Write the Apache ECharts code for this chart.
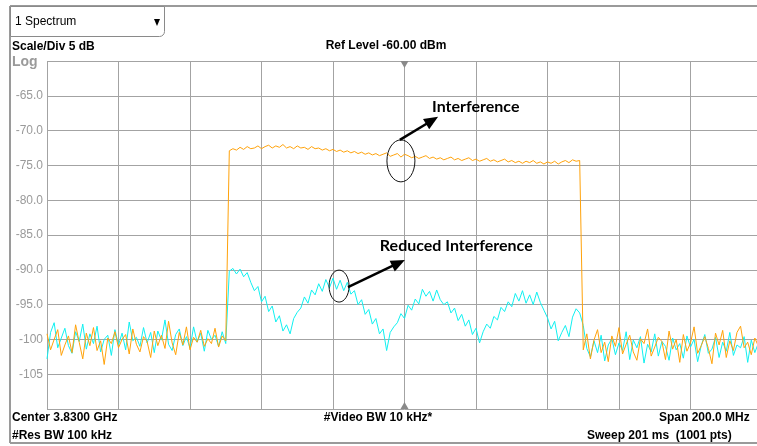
<!DOCTYPE html>
<html>
<head>
<meta charset="utf-8">
<script src="https://cdn.jsdelivr.net/npm/echarts@6/dist/echarts.min.js"></script>
<style>
  html, body { margin: 0; padding: 0; background: #fff; overflow: hidden; }
  /* the analyser screen runs a few pixels past the right edge of the capture */
  #spectrum { width: 762px; height: 446px; }
</style>
</head>
<body>
<div id="spectrum"></div>
<script>
// sweep: centre 3830 MHz, span 200 MHz, one value per MHz
const startMHz = 3730
const stopMHz = 3930
const centerMHz = 3830
const yMin = -110
const yMax = -60
const yStep = 5

// trace 1 (orange) - with interference
const orangeTrace = [
  -99.2,-101.5,-100.0,-98.6,-102.3,-100.8,-99.5,-101.9,-97.9,-100.4,
  -102.8,-99.1,-100.9,-98.3,-101.6,-100.2,-103.6,-99.8,-100.6,-98.9,
  -101.2,-100.0,-99.3,-102.1,-98.5,-100.7,-101.8,-99.6,-100.3,-102.6,
  -98.8,-100.9,-99.4,-101.3,-97.4,-100.5,-102.2,-99.0,-100.8,-98.2,
  -101.5,-99.7,-100.4,-98.7,-101.0,-99.9,-100.6,-98.4,-101.1,-99.5,-100.2,
  -72.9,-72.6,-72.8,-72.4,-72.7,-72.3,-72.6,-72.5,-72.2,-72.6,
  -72.3,-72.1,-72.5,-72.2,-72.4,-72.0,-72.5,-72.3,-72.6,-72.2,
  -72.5,-72.4,-72.7,-72.3,-72.6,-72.5,-72.8,-72.6,-72.9,-72.7,
  -73.0,-72.8,-73.1,-72.9,-73.2,-73.0,-73.3,-73.1,-73.4,-73.2,
  -73.5,-73.3,-73.6,-73.4,-73.2,-73.7,-73.5,-73.3,-73.8,-73.4,
  -73.6,-73.9,-73.7,-74.0,-73.8,-73.6,-74.0,-73.8,-74.1,-73.9,
  -74.2,-74.0,-73.8,-74.2,-74.0,-74.3,-74.1,-73.9,-74.3,-74.1,
  -74.4,-74.2,-74.0,-74.4,-74.2,-74.5,-74.3,-74.1,-74.5,-74.3,
  -74.6,-74.4,-74.7,-74.4,-74.6,-74.3,-74.7,-74.5,-74.8,-74.5,
  -74.7,-74.4,-74.8,-74.5,-74.3,-74.6,-74.2,-74.4,-74.3,
  -101.5,-99.2,-102.8,-100.1,-98.6,-101.9,-100.4,-103.2,-99.5,-101.0,
  -98.3,-102.1,-100.7,-99.4,-101.8,-103.0,-99.9,-100.6,-98.5,-102.4,
  -101.1,-99.7,-100.3,-102.9,-98.8,-101.4,-100.0,-103.3,-99.3,-101.7,
  -100.5,-98.2,-102.0,-100.9,-99.6,-101.3,-103.5,-99.1,-100.8,-98.7,
  -102.6,-100.2,-101.6,-99.0,-98.1,-101.2,-100.4,-102.2,-99.8,-101.0,-100.6
]

// trace 2 (cyan) - reduced interference
const cyanTrace = [
  -102.8,-99.0,-97.6,-101.2,-99.8,-98.4,-100.9,-102.0,-98.9,-100.3,
  -97.8,-101.4,-99.2,-100.6,-98.1,-101.8,-100.0,-99.4,-102.3,-98.6,
  -100.8,-99.1,-101.5,-97.5,-100.2,-99.7,-101.0,-98.3,-100.5,-99.0,
  -101.9,-98.8,-100.1,-97.2,-100.7,-101.6,-99.3,-98.5,-100.9,-99.6,
  -101.3,-98.2,-100.4,-99.1,-101.7,-98.7,-100.0,-99.4,-101.0,-98.9,-100.6,
  -90.2,-89.8,-90.6,-89.9,-91.0,-90.4,-91.8,-93.0,-92.4,-94.6,
  -93.8,-96.0,-95.2,-97.5,-96.6,-98.8,-97.9,-99.2,-97.0,-96.1,
  -95.5,-93.9,-94.8,-92.9,-93.6,-92.0,-93.1,-91.4,-92.6,-91.2,
  -92.8,-91.5,-93.0,-91.8,-93.5,-93.0,-95.0,-94.3,-96.4,-95.7,
  -97.8,-97.0,-99.2,-98.5,-101.6,-99.0,-98.2,-97.6,-96.3,-97.0,
  -95.1,-95.8,-94.2,-94.9,-92.8,-93.8,-93.1,-94.5,-92.9,-94.3,
  -95.0,-94.6,-96.2,-95.5,-97.3,-96.4,-98.1,-97.2,-99.3,-98.4,
  -100.5,-98.9,-97.8,-98.4,-96.7,-97.2,-95.4,-96.0,-94.6,-95.3,
  -93.4,-94.5,-93.0,-94.8,-93.6,-95.0,-93.2,-94.7,-95.8,-96.9,
  -98.5,-97.4,-100.2,-99.0,-98.0,-99.6,-96.8,-95.6,-96.2,
  -98.0,-101.3,-102.5,-100.2,-101.9,-99.4,-103.1,-100.8,-99.9,-102.2,
  -100.5,-101.6,-98.9,-102.9,-100.1,-101.2,-99.6,-103.4,-100.7,-101.8,
  -99.2,-102.4,-100.3,-101.0,-103.0,-99.8,-101.5,-100.6,-102.7,-99.5,
  -101.1,-100.0,-103.2,-100.9,-99.3,-102.0,-101.4,-99.7,-102.6,-100.4,
  -101.7,-99.0,-102.3,-100.8,-101.2,-99.6,-103.3,-100.1,-101.9,-100.5,-101.0
]

// annotations, in data units [MHz, dBm]
const interferenceMark = { center: [3829, -74.35], arrowFrom: [3828.7, -71.33], arrowTo: [3839.4, -68.02], label: [3837.7, -66.58], text: 'Interference' }
const reducedMark = { center: [3811.7, -92.34], arrowFrom: [3814.2, -92.48], arrowTo: [3830.1, -88.6], label: [3823.1, -86.58], text: 'Reduced Interference' }

const gridColor = '#a3a3a3'
const frameColor = '#9a9a9a'
const font = 'Liberation Sans, Arial, sans-serif'

function pairs(trace) {
  return trace.map((v, i) => [startMHz + i, v])
}

const chart = echarts.init(document.getElementById('spectrum'))

chart.setOption({
  animation: false,
  grid: { left: 47, top: 61, right: 0, bottom: 37 },
  xAxis: {
    type: 'value', min: startMHz, max: stopMHz, interval: 20,
    axisLine: { show: false }, axisTick: { show: false }, axisLabel: { show: false },
    splitLine: { show: true, lineStyle: { color: gridColor, width: 1 } }
  },
  yAxis: {
    type: 'value', min: yMin, max: yMax, interval: yStep,
    axisLine: { show: false }, axisTick: { show: false },
    axisLabel: {
      margin: 4, color: '#9a9a9a', fontSize: 12, fontFamily: font,
      formatter: function (v) {
        if (v === yMin || v === yMax) return ''
        return Math.abs(v) >= 100 ? String(v) : v.toFixed(1)
      }
    },
    splitLine: { show: true, lineStyle: { color: gridColor, width: 1 } }
  },
  series: [
    { name: 'Trace 2', type: 'line', data: pairs(cyanTrace), showSymbol: false, lineStyle: { color: '#10f0f0', width: 1 }, z: 3 },
    { name: 'Trace 1', type: 'line', data: pairs(orangeTrace), showSymbol: false, lineStyle: { color: '#ffa20a', width: 1 }, z: 4 }
  ]
})

function txt(x, y, text, opts) {
  return {
    type: 'text', z: 20,
    style: Object.assign({
      x: x, y: y, text: text, fill: '#000', font: 'bold 12px ' + font,
      textAlign: 'left', textVerticalAlign: 'middle', verticalAlign: 'middle'
    }, opts || {})
  }
}

function arrow(from, to) {
  const dx = to[0] - from[0], dy = to[1] - from[1]
  const len = Math.hypot(dx, dy)
  const ux = dx / len, uy = dy / len
  const headLen = 14, headW = 12
  const bx = to[0] - ux * headLen, by = to[1] - uy * headLen
  const px = -uy * headW / 2, py = ux * headW / 2
  return [
    { type: 'line', z: 20, shape: { x1: from[0], y1: from[1], x2: bx + ux * 2, y2: by + uy * 2 }, style: { stroke: '#000', lineWidth: 2.5 } },
    { type: 'polygon', z: 20, shape: { points: [[to[0], to[1]], [bx + px, by + py], [bx - px, by - py]] }, style: { fill: '#000' } }
  ]
}

function annotation(mark, rx, ry) {
  const c = chart.convertToPixel({ gridIndex: 0 }, mark.center)
  const a = chart.convertToPixel({ gridIndex: 0 }, mark.arrowFrom)
  const b = chart.convertToPixel({ gridIndex: 0 }, mark.arrowTo)
  const l = chart.convertToPixel({ gridIndex: 0 }, mark.label)
  return [
    { type: 'ellipse', z: 20, shape: { cx: c[0], cy: c[1], rx: rx, ry: ry }, style: { fill: 'none', stroke: '#111', lineWidth: 1 } },
    ...arrow(a, b),
    txt(l[0], l[1], mark.text, { font: 'bold 16px Lato, sans-serif' })
  ]
}

const topMarker = chart.convertToPixel({ gridIndex: 0 }, [centerMHz, yMax])
const botMarker = chart.convertToPixel({ gridIndex: 0 }, [centerMHz, yMin])

chart.setOption({
  graphic: [
    // instrument frame
    { type: 'line', shape: { x1: 10, y1: 6, x2: 762, y2: 6 }, style: { stroke: frameColor, lineWidth: 2 } },
    { type: 'line', shape: { x1: 10, y1: 6, x2: 10, y2: 443 }, style: { stroke: frameColor, lineWidth: 2 } },
    { type: 'line', shape: { x1: 10, y1: 443, x2: 762, y2: 443 }, style: { stroke: frameColor, lineWidth: 2 } },
    // drop-down
    { type: 'rect', shape: { x: 10.5, y: 6.5, width: 154, height: 30, r: [0, 0, 5, 0] }, style: { fill: '#fff', stroke: '#8a8a8a', lineWidth: 1 } },
    txt(15, 22, '1 Spectrum', { font: '12px ' + font }),
    { type: 'polygon', shape: { points: [[154, 19], [160, 19], [157, 26]] }, style: { fill: '#000' } },
    // header / footer text
    txt(12, 47, 'Scale/Div 5 dB'),
    txt(12, 62, 'Log', { font: 'bold 14px ' + font, fill: '#9a9a9a' }),
    txt(386, 46, 'Ref Level -60.00 dBm', { textAlign: 'center' }),
    txt(12, 418, 'Center 3.8300 GHz'),
    txt(12, 436, '#Res BW 100 kHz'),
    txt(378, 418, '#Video BW 10 kHz*', { textAlign: 'center' }),
    txt(659, 418, 'Span 200.0 MHz'),
    txt(587, 436, 'Sweep 201 ms  (1001 pts)'),
    // centre-frequency markers
    { type: 'polygon', z: 15, shape: { points: [[topMarker[0] - 4, topMarker[1]], [topMarker[0] + 4, topMarker[1]], [topMarker[0], topMarker[1] + 7]] }, style: { fill: '#8a8a8a' } },
    { type: 'polygon', z: 15, shape: { points: [[botMarker[0] - 4, botMarker[1]], [botMarker[0] + 4, botMarker[1]], [botMarker[0], botMarker[1] - 7]] }, style: { fill: '#8a8a8a' } },
    // annotations
    ...annotation(interferenceMark, 14, 21),
    ...annotation(reducedMark, 10, 16)
  ]
})

window.addEventListener('resize', function () {
  chart.resize()
})
</script>
</body>
</html>
